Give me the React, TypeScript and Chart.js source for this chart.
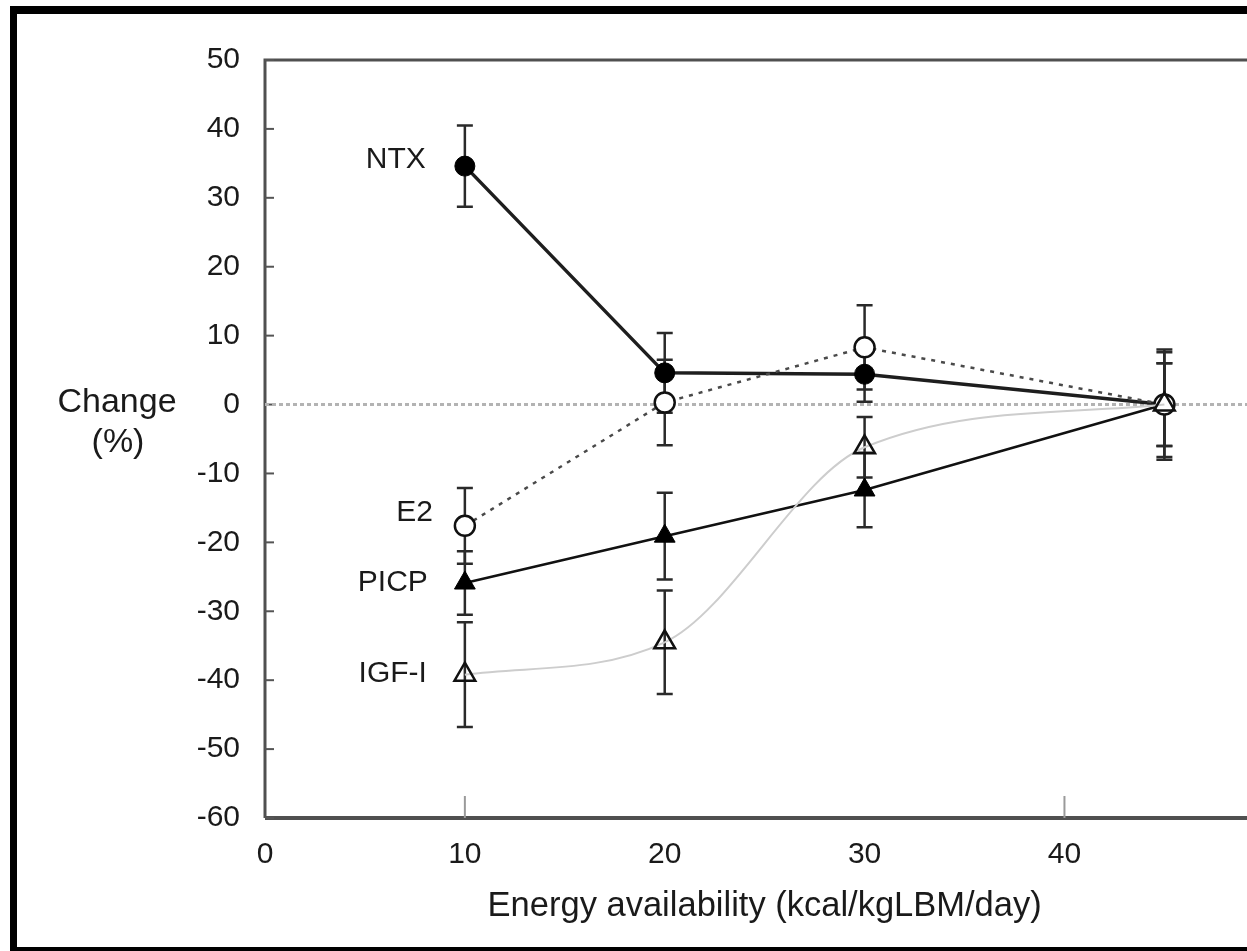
import React, { useEffect, useRef } from 'react';
import { Chart, registerables } from 'chart.js';

Chart.register(...registerables);

// ---- data ----
const energy = [10, 20, 30, 45];
const ntx = [34.6, 4.6, 4.4, 0];
const ntxErr = [5.9, 5.8, 4.0, 8.0];
const e2 = [-17.6, 0.3, 8.3, 0];
const e2Err = [5.5, 6.2, 6.1, 6.0];
const picp = [-25.9, -19.1, -12.4, 0];
const picpErr = [4.6, 6.3, 5.4, 6.0];
const igf = [-39.2, -34.5, -6.2, 0];
const igfErr = [7.6, 7.5, 4.4, 7.6];
const seriesNames = ['NTX', 'PICP', 'E2', 'IGF-I'];
const xTickValues = [0, 10, 20, 30, 40, 50];
const xInnerTickValues = [10, 40];
const yTickValues = [50, 40, 30, 20, 10, 0, -10, -20, -30, -40, -50, -60];
const yAxisLabel = ['Change', '(%)'];
const xAxisLabel = 'Energy availability (kcal/kgLBM/day)';
const zeroLine = [0, 50];

const FONT = '"Liberation Sans", Arial, Helvetica, sans-serif';
const TEXT = '#1a1a1a';

// label offsets relative to first point of each series (styling only)
const labelOffsets: Record<string, [number, number]> = {
  'NTX': [39, -6],
  'PICP': [37, 0],
  'E2': [32, -13],
  'IGF-I': [38, -1],
};

const decorPlugin = {
  id: 'decor',
  beforeDraw(chart: any) {
    const ctx = chart.ctx;
    ctx.save();
    ctx.fillStyle = '#fff';
    ctx.fillRect(0, 0, chart.width, chart.height);
    ctx.fillStyle = '#000';
    ctx.fillRect(10, 6, chart.width, 8);
    ctx.fillRect(10, 6, 7, chart.height);
    ctx.fillRect(10, 947, chart.width, 4);
    ctx.restore();
  },
  beforeDatasetsDraw(chart: any) {
    const { ctx, chartArea: a, scales } = chart;
    const x = scales.x;
    const y = scales.y;
    ctx.save();
    // plot box
    ctx.strokeStyle = '#505050';
    ctx.lineWidth = 3;
    ctx.beginPath();
    ctx.moveTo(a.left, a.bottom);
    ctx.lineTo(a.left, a.top);
    ctx.lineTo(a.right, a.top);
    ctx.lineTo(a.right, a.bottom);
    ctx.stroke();
    ctx.lineWidth = 4;
    ctx.beginPath();
    ctx.moveTo(a.left, a.bottom);
    ctx.lineTo(a.right, a.bottom);
    ctx.stroke();
    // inner y ticks
    ctx.lineWidth = 2;
    ctx.strokeStyle = '#555';
    y.ticks.forEach((t: any) => {
      const py = y.getPixelForValue(t.value);
      ctx.beginPath();
      ctx.moveTo(a.left, py);
      ctx.lineTo(a.left + 9, py);
      ctx.stroke();
    });
    // inner x ticks
    ctx.strokeStyle = '#9a9a9a';
    xInnerTickValues.forEach((v) => {
      const px = x.getPixelForValue(v);
      ctx.beginPath();
      ctx.moveTo(px, a.bottom);
      ctx.lineTo(px, a.bottom - 22);
      ctx.stroke();
    });
    // error bars
    ctx.strokeStyle = '#2a2a2a';
    ctx.lineWidth = 2.5;
    chart.data.datasets.forEach((ds: any) => {
      if (!ds.errors) return;
      ds.data.forEach((p: any, j: number) => {
        const e = ds.errors[j];
        const px = x.getPixelForValue(p.x);
        const top = y.getPixelForValue(p.y + e);
        const bot = y.getPixelForValue(p.y - e);
        ctx.beginPath();
        ctx.moveTo(px, top);
        ctx.lineTo(px, bot);
        ctx.moveTo(px - 8, top);
        ctx.lineTo(px + 8, top);
        ctx.moveTo(px - 8, bot);
        ctx.lineTo(px + 8, bot);
        ctx.stroke();
      });
    });
    ctx.restore();
  },
  afterDraw(chart: any) {
    const ctx = chart.ctx;
    ctx.save();
    ctx.fillStyle = TEXT;
    ctx.textBaseline = 'middle';
    ctx.textAlign = 'right';
    ctx.font = `30px ${FONT}`;
    chart.data.datasets.forEach((ds: any, i: number) => {
      if (!seriesNames.includes(ds.label)) return;
      const pt = chart.getDatasetMeta(i).data[0];
      const off = labelOffsets[ds.label] || [36, 0];
      ctx.fillText(ds.label, pt.x - off[0], pt.y + off[1]);
    });
    ctx.textAlign = 'center';
    ctx.font = `34px ${FONT}`;
    ctx.fillText(yAxisLabel[0], 117, 403);
    ctx.fillText(yAxisLabel[1], 118, 443);
    ctx.restore();
  },
};

export default function App() {
  const ref = useRef<HTMLCanvasElement>(null);

  useEffect(() => {
    const canvas = ref.current;
    if (!canvas) return;
    const pts = (ys: number[]) => energy.map((v, i) => ({ x: v, y: ys[i] }));
    const chart = new Chart(canvas, {
      type: 'line',
      data: {
        datasets: [
          {
            label: seriesNames[0],
            data: pts(ntx),
            errors: ntxErr,
            order: 3,
            borderColor: '#1e1e1e',
            borderWidth: 3.5,
            pointStyle: 'circle',
            pointRadius: 10,
            pointBackgroundColor: '#000',
            pointBorderColor: '#000',
            pointBorderWidth: 1,
            tension: 0,
          } as any,
          {
            label: seriesNames[1],
            data: pts(picp),
            errors: picpErr,
            order: 2,
            borderColor: '#111',
            borderWidth: 2.5,
            pointStyle: 'triangle',
            pointRadius: 12,
            pointBackgroundColor: '#000',
            pointBorderColor: '#000',
            pointBorderWidth: 1,
            tension: 0,
          } as any,
          {
            label: seriesNames[2],
            data: pts(e2),
            errors: e2Err,
            order: 1,
            borderColor: '#4a4a4a',
            borderWidth: 2.5,
            borderDash: [4, 6],
            pointStyle: 'circle',
            pointRadius: 10,
            pointBackgroundColor: '#fff',
            pointBorderColor: '#111',
            pointBorderWidth: 2.5,
            tension: 0,
          } as any,
          {
            label: seriesNames[3],
            data: pts(igf),
            errors: igfErr,
            order: 0,
            borderColor: '#cdcdcd',
            borderWidth: 2,
            cubicInterpolationMode: 'monotone',
            pointStyle: 'triangle',
            pointRadius: 12,
            pointBackgroundColor: 'rgba(255,255,255,0)',
            pointBorderColor: '#111',
            pointBorderWidth: 2.5,
          } as any,
          {
            label: 'zero',
            data: zeroLine.map((v) => ({ x: v, y: 0 })),
            order: 4,
            borderColor: '#b3b3b3',
            borderWidth: 3,
            borderDash: [4, 3],
            pointRadius: 0,
            tension: 0,
          } as any,
        ],
      },
      options: {
        animation: false,
        responsive: false,
        devicePixelRatio: 1,
        layout: { padding: { left: 0, right: 25, top: 60, bottom: 0 } },
        plugins: { legend: { display: false }, tooltip: { enabled: false } },
        scales: {
          x: {
            type: 'linear',
            min: 0,
            max: 50,
            afterBuildTicks: (s: any) => {
              s.ticks = xTickValues.map((v) => ({ value: v }));
            },
            afterFit: (s: any) => {
              s.height = 133;
            },
            grid: { display: false, drawTicks: false, tickLength: 0 },
            border: { display: false },
            ticks: { padding: 19, color: TEXT, font: { family: FONT, size: 30 }, maxRotation: 0 },
            title: {
              display: true,
              text: xAxisLabel,
              color: TEXT,
              font: { family: FONT, size: 34.5 },
              padding: { top: 0, bottom: 24 },
            },
          },
          y: {
            type: 'linear',
            min: -60,
            max: 50,
            afterBuildTicks: (s: any) => {
              s.ticks = yTickValues.map((v) => ({ value: v }));
            },
            afterFit: (s: any) => {
              s.width = 265;
            },
            grid: { display: false, drawTicks: false, tickLength: 0 },
            border: { display: false },
            ticks: { padding: 25, color: TEXT, font: { family: FONT, size: 30 } },
          },
        },
      } as any,
      plugins: [decorPlugin],
    });
    return () => chart.destroy();
  }, []);

  return (
    <div style={{ position: 'absolute', left: 0, top: 0, width: 1247, height: 951, overflow: 'hidden', background: '#fff' }}>
      <canvas ref={ref} width={1300} height={951} style={{ display: 'block', width: 1300, height: 951 }} />
    </div>
  );
}
